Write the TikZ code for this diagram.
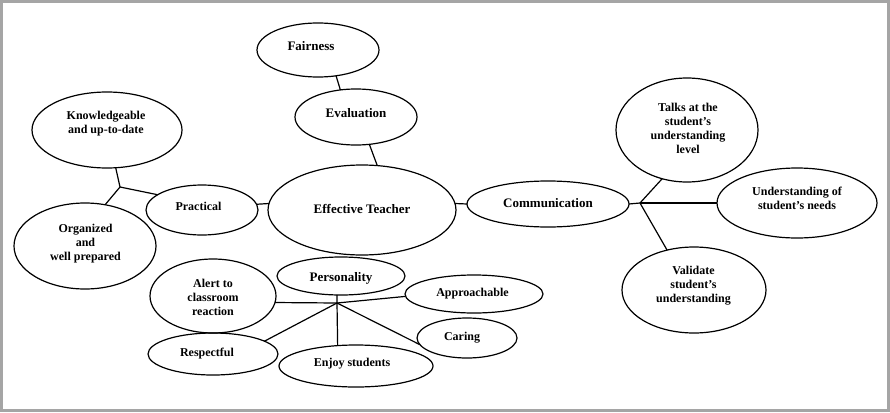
\documentclass[tikz,border=0pt]{standalone}
\usepackage{fontspec}
\setmainfont{Liberation Serif}
\usetikzlibrary{shapes.geometric}
\definecolor{framegray}{RGB}{165,165,165}
\tikzset{
  ell/.style={draw, ellipse, line width=1.2pt, inner sep=0pt, outer sep=0pt},
  big/.style={font=\fontsize{13}{15}\selectfont\bfseries, align=center, inner sep=0pt},
  small/.style={font=\fontsize{12}{14}\selectfont\bfseries, align=center, inner sep=0pt},
  link/.style={line width=1.2pt},
}
\newcommand{\ellnode}[5]{\node[ell, minimum width=#4pt, minimum height=#5pt] (#1) at (#2,#3) {};}
\begin{document}
\begin{tikzpicture}[x=1pt, y=-1pt]
\useasboundingbox (0,0) rectangle (890,412);
\draw[framegray, line width=3pt] (1.5,1.5) rectangle (888.5,410.5);

% ellipses
\ellnode{fair}{318}{50}{122}{54}
\ellnode{eval}{356}{117}{122}{56}
\ellnode{et}{362}{210}{188}{90}
\ellnode{prac}{202}{210}{112}{50}
\ellnode{know}{107}{130}{150}{76}
\ellnode{org}{85}{246}{142}{86}
\ellnode{comm}{548}{204}{162}{46}
\ellnode{talks}{687}{130}{142}{104}
\ellnode{und}{797}{203}{160}{70}
\ellnode{val}{694}{290}{144}{86}
\ellnode{pers}{341}{276}{128}{38}
\ellnode{alert}{213}{296}{126}{74}
\ellnode{appr}{474}{294}{138}{38}
\ellnode{car}{467}{338}{100}{40}
\ellnode{resp}{213}{354}{130}{42}
\ellnode{enjoy}{356}{366}{154}{42}

% texts
\node[big] (tfair) at (311,46) {Fairness};
\node[big] (teval) at (356,113) {Evaluation};
\node[big] (tet) at (362,208.5) {Effective Teacher};
\node[small] (tprac) at (198.5,206) {Practical};
\node[small] (tknow) at (106,124) {Knowledgeable\\and up-to-date};
\node[small] (torg) at (85.5,244) {Organized\\and\\well prepared};
\node[big] (tcomm) at (548,203.5) {Communication};
\node[small] (ttalks) at (688,128) {Talks at the\\student’s\\understanding\\level};
\node[small] (tund) at (797,198.5) {Understanding of\\student’s needs};
\node[small] (tval) at (693.5,286) {Validate\\student’s\\understanding};
\node[big] (tpers) at (341,278) {Personality};
\node[small] (talert) at (213,297) {Alert to\\classroom\\reaction};
\node[small] (tappr) at (472.5,294) {Approachable};
\node[small] (tcar) at (462,338) {Caring};
\node[small] (tresp) at (207,354) {Respectful};
\node[small] (tenjoy) at (352,364) {Enjoy students};

% junctions
\coordinate (kj) at (120,187);
\coordinate (cj) at (640,203);
\coordinate (pj) at (337,303);

% connectors
\draw[link] (fair.-55) -- (eval.120);
\draw[link] (eval.-64) -- (et.71);
\draw[link] (prac.6) -- (et.176);
\draw[link] (et.4) -- (comm.west);
\draw[link] (comm.east) -- (cj);
\draw[link] (cj) -- (talks.-117);
\draw[link] (cj) -- (und.west);
\draw[link] (cj) -- (val.124);
\draw[link] (kj) -- (know.-77);
\draw[link] (kj) -- (org.64);
\draw[link] (kj) -- (prac.161);
\draw[link] (pj) -- (pers.-102);
\draw[link] (pj) -- (alert.-6);
\draw[link] (pj) -- (appr.182);
\draw[link] (pj) -- (car.188);
\draw[link] (pj) -- (resp.14);
\draw[link] (pj) -- (enjoy.132);
\end{tikzpicture}
\end{document}
